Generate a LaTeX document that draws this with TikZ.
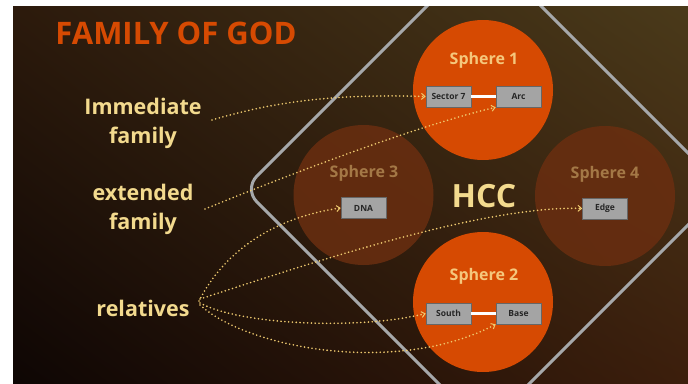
\documentclass[tikz,border=0pt]{standalone}
\usepackage{fontspec}
\setmainfont{Open Sans}
\usepackage{tikz}
\usetikzlibrary{positioning,arrows.meta,shadings}

\definecolor{godorange}{HTML}{D64A02}
\definecolor{dimorange}{HTML}{6A2E10}
\definecolor{paleyellow}{HTML}{F3DA8E}
\definecolor{peach}{HTML}{F5C77C}
\definecolor{dimtan}{HTML}{A47846}
\definecolor{dotyellow}{HTML}{EFCB70}
\definecolor{boxgray}{HTML}{A4A4A4}
\definecolor{framegray}{HTML}{A6A8AA}
\definecolor{bgul}{HTML}{2C1A0C}
\definecolor{bgur}{HTML}{4A3A1A}
\definecolor{bgll}{HTML}{0E0604}
\definecolor{bglr}{HTML}{3C1E0C}

\tikzset{
  sphere/.style={circle, minimum size=140pt, inner sep=0pt},
  spherelab/.style={font=\fontsize{16}{18}\selectfont\bfseries},
  infobox/.style={fill=boxgray, draw=gray!80!black, line width=0.6pt,
    minimum width=45pt, minimum height=21pt, inner sep=0pt,
    font=\fontsize{8.5}{9}\selectfont\bfseries, text=black!85},
  hint/.style={dotyellow, line width=1.8pt, line cap=round,
    dash pattern=on 0pt off 3.8pt, -{Straight Barb[length=3.5pt,width=6pt,line width=1pt]}},
  side/.style={paleyellow, font=\fontsize{21.5}{29}\selectfont\bfseries, align=center}
}

\begin{document}
\begin{tikzpicture}[x=1pt,y=-1pt]
\useasboundingbox (0,0) rectangle (688,383);
\fill[white] (0,0) rectangle (688,383);
\shade[upper left=bgul, upper right=bgur, lower left=bgll, lower right=bglr]
  (13,6) rectangle (688,383);

% frame
\begin{scope}
\clip (13,6) rectangle (688,383);
\draw[framegray, line width=3pt, rounded corners=18pt]
  (244,189) -- (484,-51) -- (724,189) -- (484,429) -- cycle;
\end{scope}

% spheres
\node[sphere, fill=dimorange, opacity=0.85] (s3) at (363.5,195) {};
\node[sphere, fill=dimorange, opacity=0.85] (s4) at (605,196) {};
\node[sphere, fill=godorange] (s1) at (483,90) {};
\node[sphere, fill=godorange] (s2) at (483,302) {};

\node[peach, spherelab] (s1lab) at (484,60) {Sphere 1};
\node[peach, spherelab] (s2lab) at (484,276) {Sphere 2};
\node[dimtan, spherelab] (s3lab) at (364,173) {Sphere 3};
\node[dimtan, spherelab] (s4lab) at (605,174) {Sphere 4};

\node[paleyellow, font=\fontsize{32}{34}\selectfont\bfseries] (hcc) at (484,196) {HCC};

% boxes
\node[infobox] (sec7) at (448.5,96.5) {Sector 7};
\node[infobox] (arc) at (518.5,96.5) {Arc};
\node[infobox] (south) at (448.5,313.5) {South};
\node[infobox] (base) at (518.5,313.5) {Base};
\node[infobox] (dna) at (363.5,208) {DNA};
\node[infobox] (edge) at (605,208.5) {Edge};
\draw[white, line width=3pt] (sec7) -- (arc);
\draw[white, line width=3pt] (south) -- (base);

% title and labels
\node[godorange, font=\fontsize{31}{33}\selectfont\bfseries] (title) at (176,33) {FAMILY OF GOD};
\node[side] (immed) at (143,123) {Immediate\\family};
\node[side] (ext) at (143,209) {extended\\family};
\node[side] (rel) at (143,308) {relatives};

\coordinate (imm-out) at (212,120);
\coordinate (ext-out) at (205,209);
\coordinate (rel-a) at (199,301);
\coordinate (rel-b) at (200,299);
\coordinate (rel-c) at (200,303);
\coordinate (rel-d) at (200,305);

\draw[hint] (imm-out) .. controls (280,100) and (340,94) .. (sec7.west);
\draw[hint] (ext-out) .. controls (300,170) and (420,125) .. (arc.south west);
\draw[hint] (rel-a) .. controls (230,240) and (290,215) .. (dna.west);
\draw[hint] (rel-b) .. controls (290,270) and (480,205) .. (edge.west);
\draw[hint] (rel-c) .. controls (240,325) and (360,330) .. (south.west);
\draw[hint] (rel-d) .. controls (250,350) and (400,375) .. (base.south west);
\end{tikzpicture}
\end{document}
